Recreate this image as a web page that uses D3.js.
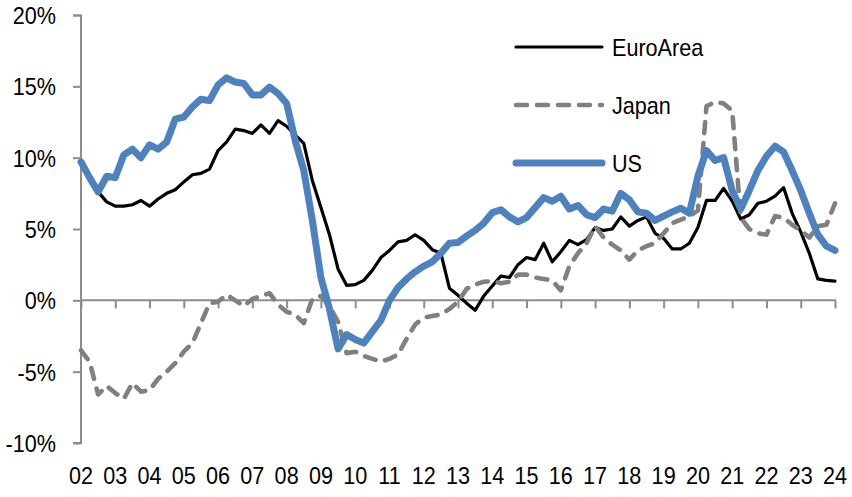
<!DOCTYPE html>
<html>
<head>
<meta charset="utf-8">
<script src="https://cdn.jsdelivr.net/npm/d3@7"></script>
<style>
html,body{margin:0;padding:0;background:#fff;}
svg{display:block;}
text{font-family:"Liberation Sans",Arial,sans-serif;fill:#000;}
</style>
</head>
<body>
<div id="chart"></div>
<script>
// Quarterly data, 2002Q1 .. 2024Q1 (89 points), % y/y
const startYear = 2002;
const euroArea = [9.6,8.6,7.6,6.9,6.6,6.6,6.7,7.0,6.6,7.1,7.5,7.75,8.3,8.8,8.9,9.2,10.5,11.1,12.0,11.9,11.7,12.3,11.7,12.6,12.2,11.6,11.0,8.4,6.5,4.6,2.2,1.05,1.1,1.4,2.1,3.0,3.5,4.1,4.2,4.6,4.2,3.55,3.3,0.85,0.35,-0.2,-0.7,0.3,1.0,1.7,1.6,2.5,3.0,2.85,4.0,2.7,3.4,4.2,3.9,4.25,5.1,4.9,5.0,5.85,5.2,5.6,5.85,4.7,4.35,3.6,3.6,4.0,5.1,7.0,7.0,7.85,6.95,5.7,6.0,6.8,6.95,7.3,7.9,6.1,4.8,3.3,1.5,1.4,1.35];
const japan = [-3.5,-4.3,-6.6,-6.0,-6.5,-6.9,-5.8,-6.4,-6.3,-5.5,-5.0,-4.4,-3.6,-3.0,-1.6,-0.2,-0.1,0.4,0.0,-0.4,0.1,0.3,0.5,-0.3,-0.8,-1.0,-1.6,0.1,0.3,-0.4,-1.5,-3.7,-3.6,-3.9,-4.1,-4.3,-4.1,-3.8,-2.7,-1.7,-1.2,-1.1,-1.0,-0.6,-0.1,0.8,1.1,1.3,1.35,1.2,1.3,1.8,1.8,1.6,1.5,1.4,0.7,2.4,3.3,4.0,5.2,4.4,3.9,3.5,2.85,3.5,3.8,4.0,4.7,5.4,5.65,5.9,6.3,13.6,13.9,13.8,13.3,5.8,5.0,4.7,4.6,5.9,5.8,5.3,4.9,4.4,5.2,5.3,6.8];
const us = [9.7,8.6,7.6,8.7,8.6,10.2,10.6,10.0,10.9,10.6,11.1,12.7,12.85,13.55,14.1,14.0,15.1,15.6,15.3,15.2,14.4,14.4,14.95,14.5,13.8,11.2,9.1,5.6,1.6,-0.6,-3.4,-2.4,-2.75,-3.0,-2.2,-1.4,0.0,0.9,1.5,2.0,2.4,2.7,3.3,4.0,4.05,4.5,4.9,5.4,6.15,6.35,5.85,5.5,5.8,6.5,7.2,6.95,7.3,6.4,6.65,6.0,5.8,6.4,6.25,7.5,7.05,6.2,6.1,5.6,5.9,6.2,6.45,6.1,8.7,10.5,9.8,10.0,7.7,6.4,7.7,9.1,10.1,10.8,10.4,9.1,7.7,6.1,4.6,3.8,3.5];
const xTickYears = d3.range(2002, 2025);
const xTickLabels = ["02","03","04","05","06","07","08","09","10","11","12","13","14","15","16","17","18","19","20","21","22","23","24"];
const yTicks = [-10,-5,0,5,10,15,20];
const seriesNames = ["EuroArea","Japan","US"];

const W = 852, H = 497;
const FS = "24px", SX = 0.9;
const svg = d3.select("#chart").append("svg").attr("width", W).attr("height", H);

const x = d3.scaleLinear().domain([2002, 2024]).range([81, 835]);
const y = d3.scaleLinear().domain([-10, 20]).range([443, 15]);
const axisColor = "#8c8c8c";

// Y axis
const yAxis = d3.axisLeft(y).tickValues(yTicks).tickSize(8).tickFormat(d => d + "%");
const gy = svg.append("g").attr("transform", "translate(81,0)").call(yAxis);
gy.select(".domain").attr("stroke", axisColor).attr("stroke-width", 2).attr("d", "M-8,15.5H0V443H-8");
gy.selectAll(".tick line").attr("stroke", axisColor).attr("stroke-width", 2);
gy.selectAll(".tick text").attr("x", 0).attr("dy", "0.35em")
  .attr("transform", `translate(-25,0) scale(${SX},1)`)
  .style("font-size", FS).style("font-family", "'Liberation Sans', Arial, sans-serif").attr("fill", "#000");

// X axis at 0%
const xAxis = d3.axisBottom(x).tickValues(xTickYears).tickSize(8).tickFormat((d, i) => xTickLabels[i]);
const gx = svg.append("g").attr("transform", `translate(0,${y(0)})`).call(xAxis);
gx.select(".domain").attr("stroke", axisColor).attr("stroke-width", 2).attr("d", `M81,0H${x(2024)+1}`);
gx.selectAll(".tick line").attr("stroke", axisColor).attr("stroke-width", 2);
gx.selectAll(".tick text").remove();
// X tick labels at bottom
svg.append("g").selectAll("text").data(xTickYears).join("text")
  .attr("transform", d => `translate(${x(d)},476) scale(${SX},1)`).attr("dy", "0.35em")
  .attr("text-anchor", "middle").style("font-size", FS)
  .text((d, i) => xTickLabels[i]);

const line = d3.line().x((d, i) => x(startYear + i / 4)).y(d => y(d));

const styles = {
  EuroArea: {color: "#000000", width: 3.2, dash: null, data: euroArea},
  Japan: {color: "#808080", width: 4.6, dash: "11,10", data: japan},
  US: {color: "#4F81BD", width: 7, dash: null, data: us}
};

seriesNames.forEach(name => {
  const s = styles[name];
  svg.append("path").datum(s.data)
    .attr("fill", "none").attr("stroke", s.color).attr("stroke-width", s.width)
    .attr("stroke-linejoin", "round").attr("stroke-linecap", "round")
    .attr("stroke-dasharray", s.dash)
    .attr("d", line);
});

// Legend
const legendY = [47, 105, 163];
seriesNames.forEach((name, i) => {
  const s = styles[name];
  svg.append("line").attr("x1", 516).attr("x2", 602).attr("y1", legendY[i]).attr("y2", legendY[i])
    .attr("stroke", s.color).attr("stroke-width", s.width)
    .attr("stroke-linecap", "round").attr("stroke-dasharray", s.dash);
  svg.append("text").attr("transform", `translate(612,${legendY[i] + 1}) scale(${SX},1)`).attr("dy", "0.35em")
    .style("font-size", FS).text(name);
});
</script>
</body>
</html>
